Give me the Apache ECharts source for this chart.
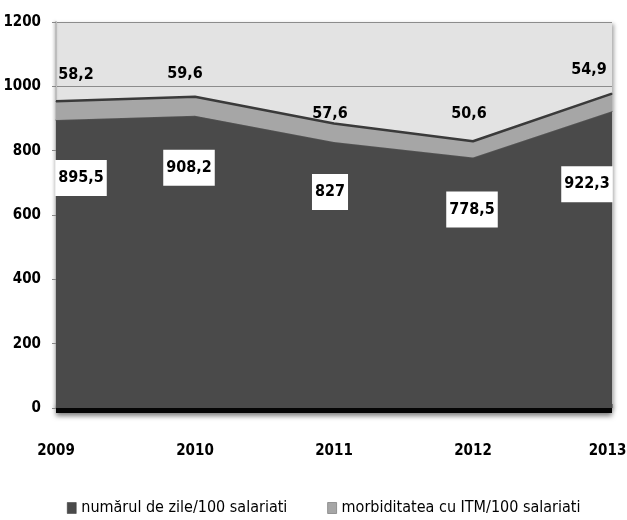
<!DOCTYPE html>
<html>
<head>
<meta charset="utf-8">
<script src="https://cdn.jsdelivr.net/npm/echarts@6/dist/echarts.min.js"></script>
<style>
  html, body { margin: 0; padding: 0; background: #fff; }
  #chart { width: 627px; height: 520px; }
</style>
</head>
<body>
<div id="chart"></div>
<script>
// Years on the horizontal axis
const years = ['2009', '2010', '2011', '2012', '2013'];
// Days of sick leave per 100 employees
const zile = [895.5, 908.2, 827, 778.5, 922.3];
// Morbidity with temporary work incapacity per 100 employees
const morbiditate = [58.2, 59.6, 57.6, 50.6, 54.9];
// Value-axis ticks
const yTicks = [0, 200, 400, 600, 800, 1000, 1200];

const seriesNames = ['numărul de zile/100 salariati', 'morbiditatea cu ITM/100 salariati'];

// Label placement (pixel offsets from each point)
const zileLabelOffsets = [[25, 58], [-6, 52], [-4, 50], [-1, 52], [-25, 73]];
const morbLabelOffsets = [[20, -26], [-10, -23], [-4, -10], [-4, -27], [-23, -24]];

const fontFam = '"Liberation Sans Narrow", "DejaVu Sans Condensed", sans-serif';
const fmt = v => String(v).replace('.', ',');

const chart = echarts.init(document.getElementById('chart'), null, { renderer: 'canvas' });

chart.setOption({
  animation: false,
  backgroundColor: '#ffffff',
  grid: {
    left: 56, right: 15, top: 22, bottom: 112,
    containLabel: false, outerBoundsMode: 'none',
    show: true, backgroundColor: '#e3e3e3', borderWidth: 0,
    shadowColor: 'rgba(0,0,0,0.35)', shadowBlur: 4, shadowOffsetX: 2, shadowOffsetY: 2
  },
  legend: {
    top: 495, left: 62,
    itemWidth: 9, itemHeight: 11, itemGap: 40,
    icon: 'rect',
    textStyle: { fontFamily: fontFam, fontSize: 16, color: '#000' },
    data: [
      { name: seriesNames[0], itemStyle: { color: '#4a4a4a', borderColor: '#333', borderWidth: 0.5 } },
      { name: seriesNames[1], itemStyle: { color: '#a6a6a6', borderColor: '#555', borderWidth: 0.5 } }
    ]
  },
  xAxis: {
    type: 'category',
    data: years,
    boundaryGap: false,
    offset: 5,
    axisLine: {
      show: true,
      lineStyle: { color: '#050505', width: 9, cap: 'butt', shadowColor: 'rgba(0,0,0,0.5)', shadowBlur: 5, shadowOffsetY: 3 }
    },
    axisTick: { show: true, inside: true, length: 4, lineStyle: { color: '#777', width: 1 } },
    axisLabel: {
      margin: 31, color: '#000',
      fontFamily: fontFam, fontWeight: 'bold', fontSize: 15,
      // keep the last year inside the canvas
      formatter: (v, i) => (i === years.length - 1 ? '{edge|' + v + '}' : v),
      rich: {
        edge: { fontFamily: fontFam, fontWeight: 'bold', fontSize: 15, color: '#000', padding: [0, 9, 0, 0] }
      }
    },
    splitLine: { show: false }
  },
  yAxis: {
    type: 'value',
    min: yTicks[0], max: yTicks[yTicks.length - 1], interval: yTicks[1] - yTicks[0],
    axisLine: {
      show: true,
      lineStyle: { color: '#bdbdbd', width: 2, shadowColor: 'rgba(0,0,0,0.25)', shadowBlur: 3, shadowOffsetX: -1 }
    },
    axisTick: { show: true, length: 4, lineStyle: { color: '#888' } },
    axisLabel: {
      margin: 15, color: '#000',
      formatter: v => String(v),
      fontFamily: fontFam, fontWeight: 'bold', fontSize: 15
    },
    splitLine: { show: true, lineStyle: { color: '#8c8c8c', width: 1 } }
  },
  series: [
    {
      name: seriesNames[0],
      type: 'line',
      stack: 'total',
      data: zile,
      symbol: 'circle', symbolSize: 1, showSymbol: true,
      itemStyle: { color: '#4a4a4a' },
      lineStyle: { color: '#555555', width: 1.5 },
      areaStyle: { color: '#4a4a4a', opacity: 1 },
      label: {
        show: true,
        position: 'inside',
        formatter: p => fmt(p.value),
        fontFamily: fontFam, fontWeight: 'bold', fontSize: 16, color: '#000',
        backgroundColor: '#ffffff', padding: [11, 3, 9, 3]
      },
      labelLayout: p => ({ dx: zileLabelOffsets[p.dataIndex][0], dy: zileLabelOffsets[p.dataIndex][1] }),
      z: 2
    },
    {
      name: seriesNames[1],
      type: 'line',
      stack: 'total',
      data: morbiditate,
      symbol: 'circle', symbolSize: 1, showSymbol: true,
      itemStyle: { color: '#3a3a3a' },
      lineStyle: { color: '#3a3a3a', width: 2.5 },
      areaStyle: { color: '#a6a6a6', opacity: 1 },
      label: {
        show: true,
        position: 'inside',
        formatter: p => fmt(p.value),
        fontFamily: fontFam, fontWeight: 'bold', fontSize: 16, color: '#000'
      },
      labelLayout: p => ({ dx: morbLabelOffsets[p.dataIndex][0], dy: morbLabelOffsets[p.dataIndex][1] }),
      z: 3
    }
  ]
});
</script>
</body>
</html>
